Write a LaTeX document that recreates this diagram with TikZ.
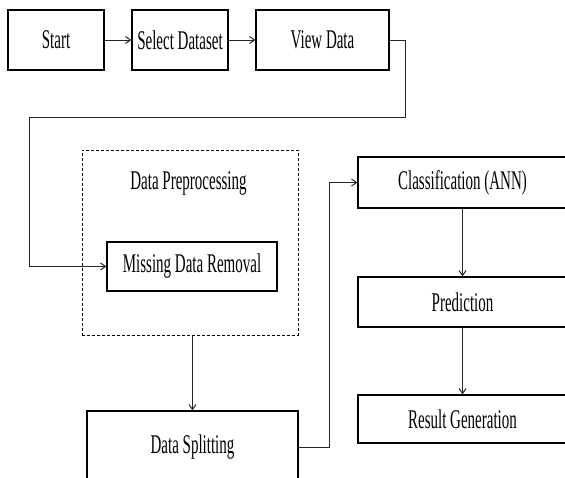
\documentclass[tikz,border=0pt]{standalone}
\usepackage{fontspec}
\setmainfont{Liberation Serif}
\usetikzlibrary{arrows.meta,positioning}
\newcommand{\tallt}[1]{\scalebox{1}[1.8]{#1}}

\begin{document}
\begin{tikzpicture}[
  x=1pt, y=-1pt,
  font=\fontsize{15}{18}\selectfont,
  bx/.style={draw, line width=1.3pt, inner sep=0pt},
  grp/.style={draw, densely dashed, line width=0.9pt, inner sep=0pt},
  flow/.style={-{Straight Barb[length=5pt,width=7pt]}, line width=1pt, black!85}
]
\useasboundingbox (0,0) rectangle (565,477);
\clip (0,0) rectangle (565,477);

% top row
\node[bx, minimum width=96pt, minimum height=60pt] (start) at (56,40) {\tallt{Start}};
\node[bx, minimum width=96pt, minimum height=60pt] (sel) at (180,40) {\tallt{Select Dataset}};
\node[bx, minimum width=133pt, minimum height=60pt] (view) at (322.5,40) {\tallt{View Data}};
\draw[flow] (start) -- (sel);
\draw[flow] (sel) -- (view);

% preprocessing group
\node[grp, minimum width=216pt, minimum height=185pt] (prep) at (190,242.5) {};
\node (preplbl) at (188.5,183) {\tallt{Data Preprocessing}};
\node[bx, minimum width=170pt, minimum height=49pt] (mdr) at (192,266.5) {\tallt{Missing Data Removal}};
\coordinate (c1) at (405,117);
\coordinate (c2) at (29,117);
\draw[flow] (view.east) -| (c1) -- (c2) |- (mdr.west);

% splitting
\node[bx, minimum width=211pt, minimum height=72pt] (split) at (192.5,447) {\tallt{Data Splitting}};
\draw[flow] (split.north |- prep.south) -- (split.north);

% right column
\node[bx, minimum width=209pt, minimum height=51pt] (cls) at (462.5,182.5) {\tallt{Classification (ANN)}};
\node[bx, minimum width=209pt, minimum height=50pt] (pred) at (462.5,302) {\tallt{Prediction}};
\node[bx, minimum width=209pt, minimum height=48pt] (res) at (462.5,419) {\tallt{Result Generation}};
\draw[flow] (split.east) -- ++(31,0) |- (cls.west);
\draw[flow] (cls) -- (pred);
\draw[flow] (pred) -- (res);
\end{tikzpicture}
\end{document}
